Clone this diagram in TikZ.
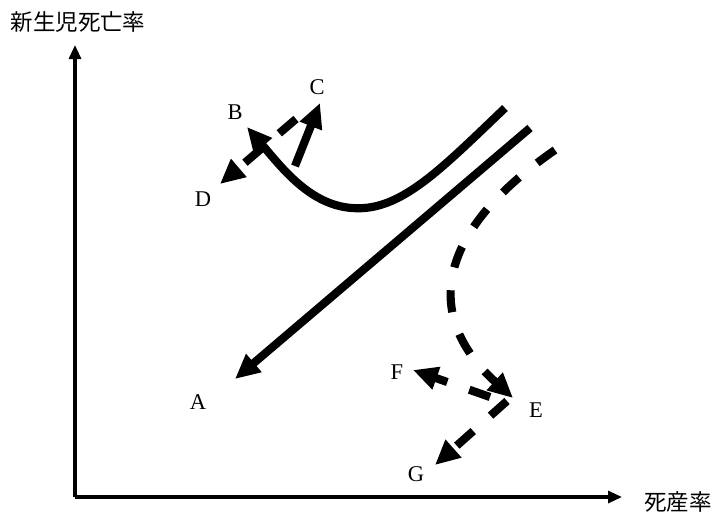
\documentclass[tikz,border=0pt]{standalone}
\usepackage{fontspec}
\setmainfont{Liberation Serif}
\newfontfamily\jpfont{Noto Sans CJK JP}
\usetikzlibrary{arrows.meta}

\begin{document}
\begin{tikzpicture}[
  x=0.025cm, y=-0.025cm,
  lbl/.style={font=\fontsize{16}{18}\selectfont, inner sep=0pt},
  jlbl/.style={font=\jpfont\fontsize{16}{18}\selectfont, inner sep=0pt},
  axis/.style={line width=2.2pt, -{Triangle[length=0.35cm, width=0.3cm]}},
  trend/.style={line width=5.8pt, -{Triangle[length=0.62cm, width=0.56cm]}},
  dtrend/.style={trend, dash pattern=on 0.55cm off 0.58cm}
]
  \useasboundingbox (0,0) rectangle (716,515);

  % Axes
  \coordinate (O) at (75,497);
  \coordinate (ytip) at (75,45);
  \coordinate (xtip) at (622,497);
  \draw[axis] (O) -- (ytip);
  \draw[axis] (O) -- (xtip);
  \node[jlbl] (ylab) at (78,22) {新生児死亡率};
  \node[jlbl] (xlab) at (678,502) {死産率};

  % Labels
  \node[lbl] (A) at (198,402) {A};
  \node[lbl] (B) at (235,112) {B};
  \node[lbl] (C) at (317,87) {C};
  \node[lbl] (D) at (203,199) {D};
  \node[lbl] (E) at (536,410) {E};
  \node[lbl] (F) at (397,372) {F};
  \node[lbl] (G) at (416,474) {G};

  % Path ends
  \coordinate (a0) at (530,128);
  \coordinate (aT) at (235,379);
  \coordinate (b0) at (505,108);
  \coordinate (bM) at (352,208);
  \coordinate (bT) at (247,127);
  \coordinate (c0) at (295,166);
  \coordinate (cT) at (320,103);
  \coordinate (d0) at (296,119);
  \coordinate (dT) at (220,184);
  \coordinate (e0) at (555,150);
  \coordinate (eT) at (513,398);
  \coordinate (f0) at (490,397);
  \coordinate (fT) at (413,370);
  \coordinate (g0) at (507,401);
  \coordinate (gT) at (435,465);

  % Trends
  \draw[trend] (a0) -- (aT);
  \draw[dtrend] (d0) -- (dT);
  \draw[trend] (b0) .. controls (440,170) and (400,212) .. (bM)
                    .. controls (310,205) and (282,168) .. (bT);
  \draw[trend] (c0) -- (cT);
  \draw[dtrend] (e0) .. controls (432,235) and (425,318) .. (eT);
  \draw[dtrend] (f0) -- (fT);
  \draw[dtrend] (g0) -- (gT);

\end{tikzpicture}
\end{document}
